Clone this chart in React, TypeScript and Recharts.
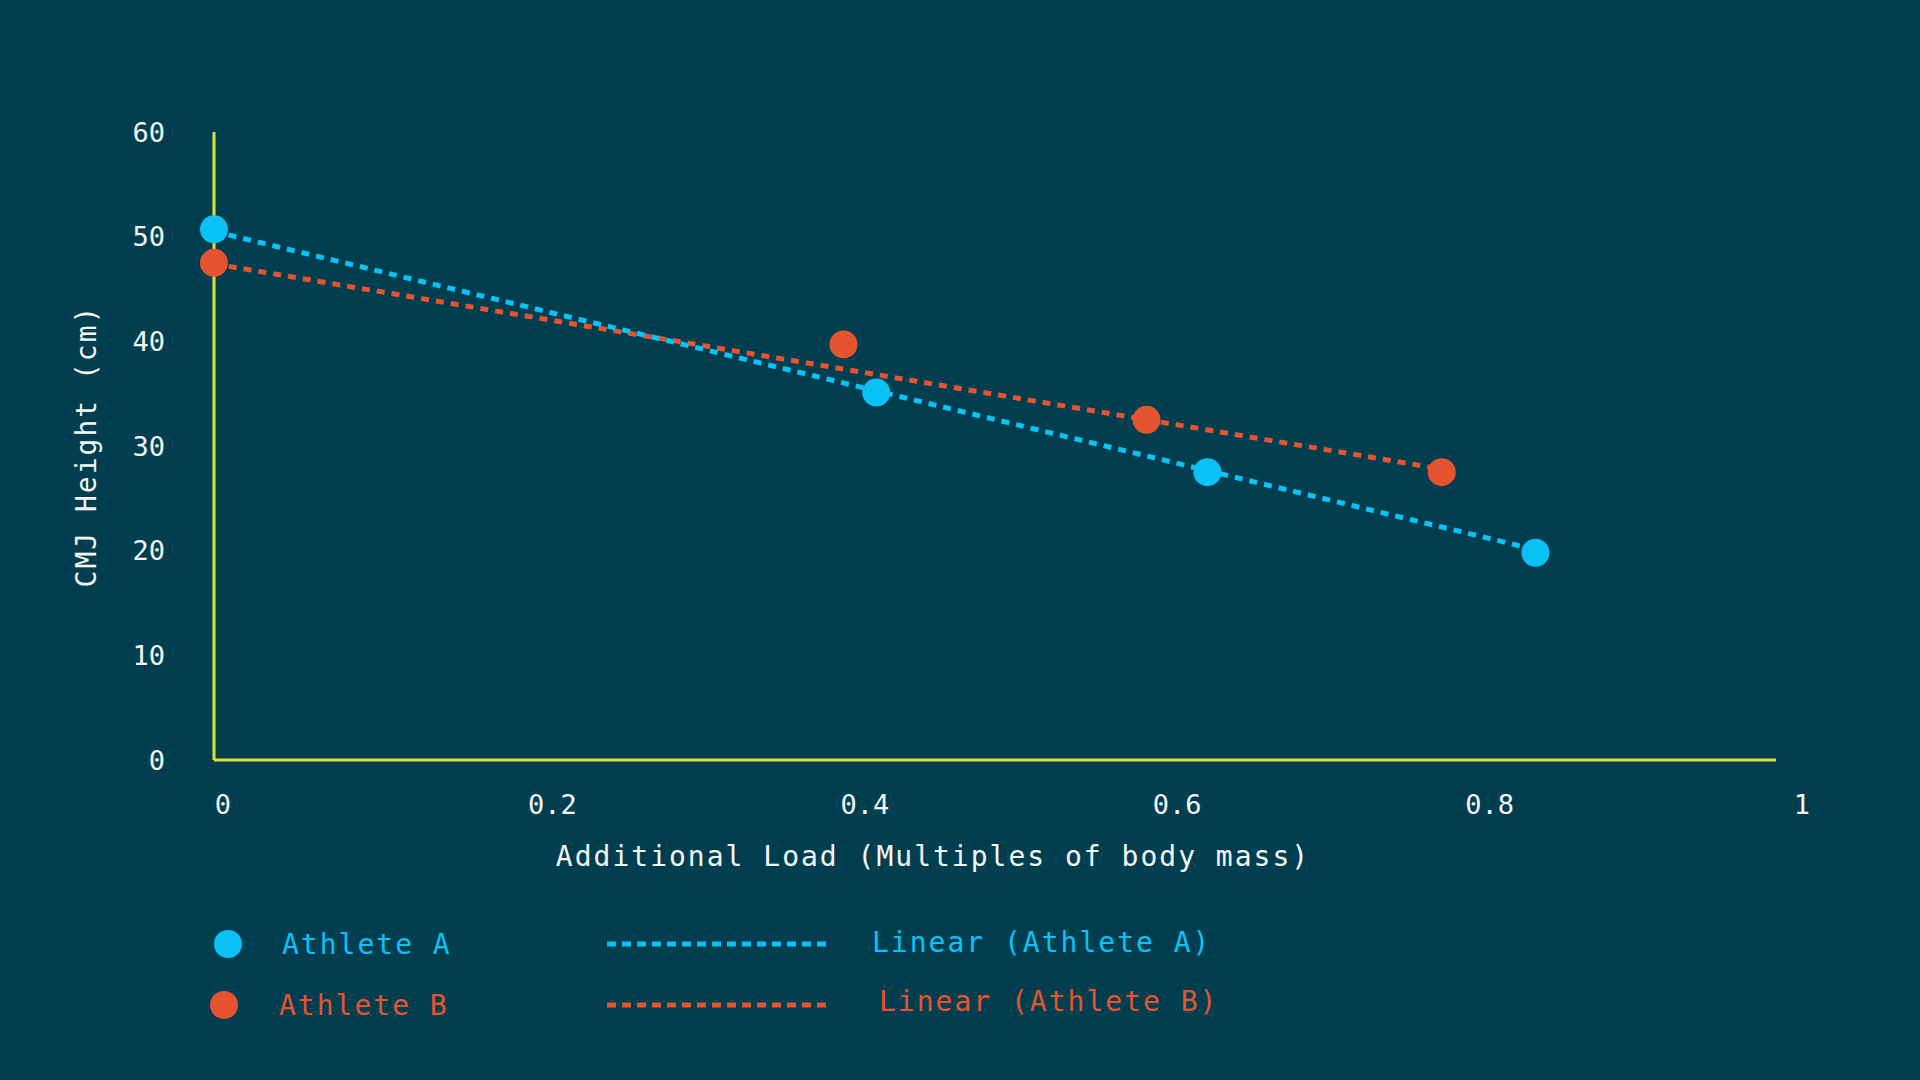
import React from "react";
import { ScatterChart, Scatter, XAxis, YAxis, Label } from "recharts";

// load (multiples of body mass) vs CMJ height (cm)
const loadA = [0, 0.424, 0.636, 0.846];
const heightA = [50.7, 35.1, 27.5, 19.8];
const loadB = [0, 0.403, 0.597, 0.786];
const heightB = [47.5, 39.7, 32.5, 27.5];

// linear trend end points
const trendLoadA = [0, 0.846];
const trendHeightA = [50.5, 20.1];
const trendLoadB = [0, 0.786];
const trendHeightB = [47.4, 27.8];

const xTicks = [0, 0.2, 0.4, 0.6, 0.8, 1];
const yTicks = [0, 10, 20, 30, 40, 50, 60];

const seriesNames = ["Athlete A", "Athlete B"];
const trendNames = ["Linear (Athlete A)", "Linear (Athlete B)"];

const BG = "#013F50";
const BLUE = "#0BC2F6";
const ORANGE = "#E6532F";
const AXIS = "#DDE13A";
const TEXT = "#F4F6F6";
const FONT = "'DejaVu Sans Mono', 'Liberation Mono', monospace";

const toPoints = (xs: number[], ys: number[]) => xs.map((x, i) => ({ x, y: ys[i] }));

const pointsA = toPoints(loadA, heightA);
const pointsB = toPoints(loadB, heightB);
const lineA = toPoints(trendLoadA, trendHeightA);
const lineB = toPoints(trendLoadB, trendHeightB);

const noShape = () => <g />;

// x tick labels sit a little to the right of their ticks in the original
const XTick = (props: any) => {
  const { x, y, payload } = props;
  const shift = payload.value === 0 ? 9 : 26;
  return (
    <text
      x={x + shift}
      y={y}
      dy="0.75em"
      textAnchor="middle"
      fill={TEXT}
      fontSize={27}
      fontFamily={FONT}
    >
      {payload.value}
    </text>
  );
};

const LegendBlock = () => {
  const colors = [BLUE, ORANGE];
  const rows = [64, 125];
  return (
    <svg
      width={1300}
      height={170}
      style={{ position: "absolute", left: 0, top: 880, fontFamily: FONT }}
    >
      {seriesNames.map((name, i) => (
        <g key={name}>
          <circle cx={i === 0 ? 228 : 224} cy={rows[i]} r={14} fill={colors[i]} />
          <text
            x={i === 0 ? 282 : 279}
            y={rows[i]}
            dominantBaseline="central"
            fill={colors[i]}
            fontSize={28}
            letterSpacing={2}
          >
            {name}
          </text>
          <line
            x1={607}
            x2={828}
            y1={rows[i]}
            y2={rows[i]}
            stroke={colors[i]}
            strokeWidth={5}
            strokeDasharray="9 6"
          />
          <text
            x={i === 0 ? 872 : 879}
            y={rows[i] - (i === 0 ? 2 : 4)}
            dominantBaseline="central"
            fill={colors[i]}
            fontSize={28}
            letterSpacing={2}
          >
            {trendNames[i]}
          </text>
        </g>
      ))}
    </svg>
  );
};

export default function App() {
  return (
    <div
      style={{
        position: "absolute",
        left: 0,
        top: 0,
        width: 1920,
        height: 1080,
        background: BG,
        overflow: "hidden",
      }}
    >
      <ScatterChart
        width={1920}
        height={1080}
        margin={{ top: 132, right: 144, bottom: 200, left: 60 }}
      >
        <XAxis
          type="number"
          dataKey="x"
          domain={[0, 1]}
          ticks={xTicks}
          height={120}
          axisLine={{ stroke: AXIS, strokeWidth: 3 }}
          tickLine={false}
          tickSize={0}
          tickMargin={34}
          tick={<XTick />}
        >
          <Label
            value="Additional Load (Multiples of body mass)"
            position="insideBottom"
            offset={14}
            dx={-62}
            fill={TEXT}
            fontSize={28}
            fontFamily={FONT}
            style={{ letterSpacing: 2 }}
          />
        </XAxis>
        <YAxis
          type="number"
          dataKey="y"
          domain={[0, 60]}
          ticks={yTicks}
          width={154}
          axisLine={{ stroke: AXIS, strokeWidth: 3 }}
          tickLine={false}
          tickSize={0}
          tickMargin={49}
          tick={{ fill: TEXT, fontSize: 27, fontFamily: FONT }}
        >
          <Label
            value="CMJ Height (cm)"
            position="insideLeft"
            angle={-90}
            offset={26}
            textAnchor="middle"
            fill={TEXT}
            fontSize={28}
            fontFamily={FONT}
            style={{ letterSpacing: 2 }}
          />
        </YAxis>
        <Scatter
          name={trendNames[1]}
          data={lineB}
          line={{ stroke: ORANGE, strokeWidth: 5, strokeDasharray: "8 7" }}
          shape={noShape}
          isAnimationActive={false}
        />
        <Scatter
          name={trendNames[0]}
          data={lineA}
          line={{ stroke: BLUE, strokeWidth: 5, strokeDasharray: "8 7" }}
          shape={noShape}
          isAnimationActive={false}
        />
        <Scatter
          name={seriesNames[1]}
          data={pointsB}
          fill={ORANGE}
          shape={(p: any) => <circle cx={p.cx} cy={p.cy} r={14} fill={ORANGE} />}
          isAnimationActive={false}
        />
        <Scatter
          name={seriesNames[0]}
          data={pointsA}
          fill={BLUE}
          shape={(p: any) => <circle cx={p.cx} cy={p.cy} r={14} fill={BLUE} />}
          isAnimationActive={false}
        />
      </ScatterChart>
      <LegendBlock />
    </div>
  );
}
